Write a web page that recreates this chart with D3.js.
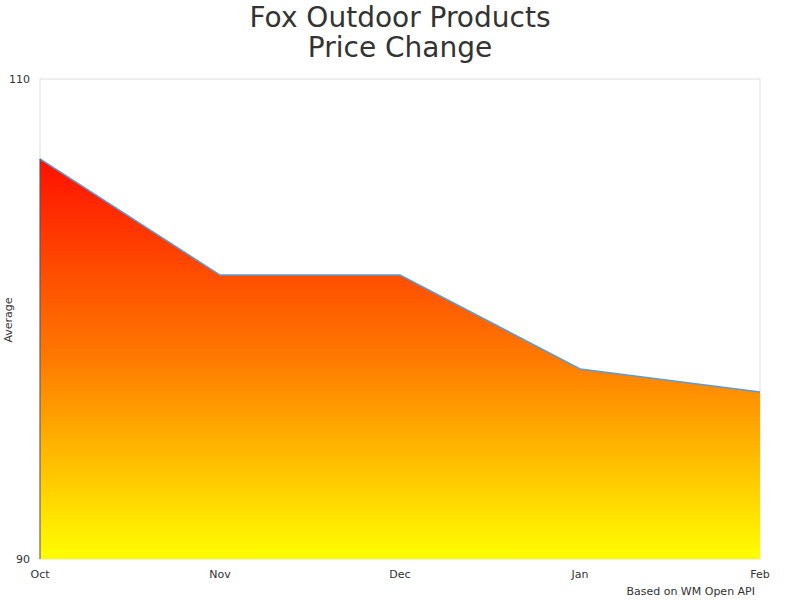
<!DOCTYPE html>
<html><head><meta charset="utf-8">
<script src="https://cdn.jsdelivr.net/npm/d3@7"></script>
<style>body{margin:0;background:#fff;font-family:"DejaVu Sans",sans-serif;}</style>
</head><body><svg id="c" width="800" height="600"></svg>
<script>
const months = ["Oct", "Nov", "Dec", "Jan", "Feb"];
const average = [106.67, 101.83, 101.83, 97.92, 96.96];
const yTicks = [90, 110];

const svg = d3.select("#c");
const m = { left: 40, right: 760, top: 79, bottom: 559 };
const x = d3.scalePoint().domain(months).range([m.left, m.right]);
const y = d3.scaleLinear().domain([90, 110]).range([m.bottom, m.top]);

const grad = svg.append("defs").append("linearGradient")
    .attr("id", "g").attr("x1", 0).attr("y1", 0).attr("x2", 0).attr("y2", 1);
grad.append("stop").attr("offset", "0%").attr("stop-color", "#ff1000");
grad.append("stop").attr("offset", "50%").attr("stop-color", "#ff7a00");
grad.append("stop").attr("offset", "100%").attr("stop-color", "#ffff00");

svg.append("rect").attr("x", m.left).attr("y", m.top)
    .attr("width", m.right - m.left).attr("height", m.bottom - m.top)
    .attr("fill", "none").attr("stroke", "#ddd");

const data = months.map((d, i) => ({ m: d, v: average[i] }));
svg.append("path").datum(data)
    .attr("fill", "url(#g)")
    .attr("d", d3.area().x(d => x(d.m)).y0(y(90)).y1(d => y(d.v)));
svg.append("path").datum(data)
    .attr("fill", "none").attr("stroke", "#5b9bd5").attr("stroke-width", 1.5)
    .attr("d", d3.line().x(d => x(d.m)).y(d => y(d.v)));
svg.append("line").attr("x1", m.left).attr("x2", m.left)
    .attr("y1", y(average[0])).attr("y2", m.bottom).attr("stroke", "#555");

svg.selectAll(".yt").data(yTicks).join("text")
    .attr("x", 30).attr("y", d => y(d) + 4).attr("text-anchor", "end")
    .attr("font-size", 11).attr("fill", "#333").text(d => d);
svg.selectAll(".xt").data(months).join("text")
    .attr("x", d => x(d)).attr("y", 578).attr("text-anchor", "middle")
    .attr("font-size", 11).attr("fill", "#333").text(d => d);

svg.append("text").attr("transform", "translate(12,320) rotate(-90)")
    .attr("text-anchor", "middle").attr("font-size", 11).attr("fill", "#333").text("Average");
svg.append("text").attr("x", 400).attr("y", 27).attr("text-anchor", "middle")
    .attr("font-size", 28).attr("fill", "#333").text("Fox Outdoor Products");
svg.append("text").attr("x", 400).attr("y", 57).attr("text-anchor", "middle")
    .attr("font-size", 28).attr("fill", "#333").text("Price Change");
svg.append("text").attr("x", 755).attr("y", 595).attr("text-anchor", "end")
    .attr("font-size", 11).attr("fill", "#333").text("Based on WM Open API");
</script></body></html>
